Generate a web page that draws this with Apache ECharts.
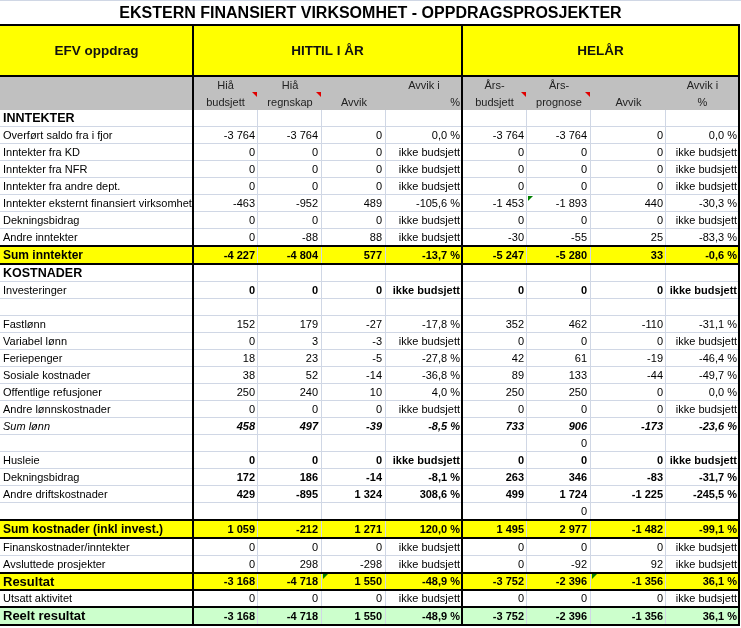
<!DOCTYPE html>
<html>
<head>
<meta charset="utf-8">
<script src="https://cdn.jsdelivr.net/npm/echarts@6/dist/echarts.min.js"></script>
<style>
html,body{margin:0;padding:0;background:#fff;}
#chart{width:741px;height:628px;}
</style>
</head>
<body>
<div id="chart"></div>
<script>
// ---------- DATA ----------
const title = "EKSTERN FINANSIERT VIRKSOMHET - OPPDRAGSPROSJEKTER";
const headerLabel = "EFV oppdrag";
const groupLabels = ["HITTIL I ÅR", "HELÅR"];
const subHeaderLine1 = ["", "Hiå", "Hiå", "", "Avvik i", "Års-", "Års-", "", "Avvik i"];
const subHeaderLine2 = ["", "budsjett", "regnskap", "Avvik", "%", "budsjett", "prognose", "Avvik", "%"];
const IB = "ikke budsjett";

const rowLabels = ["INNTEKTER", "Overført saldo fra i fjor", "Inntekter fra KD", "Inntekter fra NFR",
  "Inntekter fra andre dept.", "Inntekter eksternt finansiert virksomhet", "Dekningsbidrag", "Andre inntekter",
  "Sum inntekter", "KOSTNADER", "Investeringer", "", "Fastlønn", "Variabel lønn", "Feriepenger",
  "Sosiale kostnader", "Offentlige refusjoner", "Andre lønnskostnader", "Sum lønn", "", "Husleie",
  "Dekningsbidrag", "Andre driftskostnader", "", "Sum kostnader (inkl invest.)", "Finanskostnader/inntekter",
  "Avsluttede prosjekter", "Resultat", "Utsatt aktivitet", "Reelt resultat"];

const hiaBudsjett = [null, -3764, 0, 0, 0, -463, 0, 0, -4227, null, 0, null, 152, 0, 18, 38, 250, 0, 458, null, 0, 172, 429, null, 1059, 0, 0, -3168, 0, -3168];
const hiaRegnskap = [null, -3764, 0, 0, 0, -952, 0, -88, -4804, null, 0, null, 179, 3, 23, 52, 240, 0, 497, null, 0, 186, -895, null, -212, 0, 298, -4718, 0, -4718];
const hiaAvvik = [null, 0, 0, 0, 0, 489, 0, 88, 577, null, 0, null, -27, -3, -5, -14, 10, 0, -39, null, 0, -14, 1324, null, 1271, 0, -298, 1550, 0, 1550];
const hiaAvvikPct = [null, 0.0, IB, IB, IB, -105.6, IB, IB, -13.7, null, IB, null, -17.8, IB, -27.8, -36.8, 4.0, IB, -8.5, null, IB, -8.1, 308.6, null, 120.0, IB, IB, -48.9, IB, -48.9];
const arsBudsjett = [null, -3764, 0, 0, 0, -1453, 0, -30, -5247, null, 0, null, 352, 0, 42, 89, 250, 0, 733, null, 0, 263, 499, null, 1495, 0, 0, -3752, 0, -3752];
const arsPrognose = [null, -3764, 0, 0, 0, -1893, 0, -55, -5280, null, 0, null, 462, 0, 61, 133, 250, 0, 906, 0, 0, 346, 1724, 0, 2977, 0, -92, -2396, 0, -2396];
const arsAvvik = [null, 0, 0, 0, 0, 440, 0, 25, 33, null, 0, null, -110, 0, -19, -44, 0, 0, -173, null, 0, -83, -1225, null, -1482, 0, 92, -1356, 0, -1356];
const arsAvvikPct = [null, 0.0, IB, IB, IB, -30.3, IB, -83.3, -0.6, null, IB, null, -31.1, IB, -46.4, -49.7, 0.0, IB, -23.6, null, IB, -31.7, -245.5, null, -99.1, IB, IB, 36.1, IB, 36.1];

// ---------- LAYOUT / STYLE ----------
const W = 741, H = 628;
const colEdges = [0, 193, 258, 322, 386, 462, 527, 591, 666, 739];
const headerEdges = [0, 25, 76, 110];
const rowHeights = [17,17,17,17,17,17,17,17,18,18,17,17,17,17,17,17,17,17,17,17,17,17,17,17,18,18,17,17,17,18];
const rowEdges = [headerEdges[3]];
rowHeights.forEach(h => rowEdges.push(rowEdges[rowEdges.length - 1] + h));
// row kinds: n normal, s section, sum, b bold values, i italic sum, res result, reelt
const rowKinds = ["s","n","n","n","n","n","n","n","sum","s","b","n","n","n","n","n","n","n","i","n","b","b","b","n","sum","n","n","res","n","reelt"];
const valuePad = [3, 3, 4, 4, 2, 3, 4, 3, 2];
const pctCols = [4, 8];
const FF = '"Liberation Sans", Arial, sans-serif';
const YELLOW = "#FFFF00", GREEN = "#CCFFCC", GRAY = "#C0C0C0", GRID = "#D0D7E5";
const thickRowsTopBottom = [8, 24, 27, 29];
const redMarks = [1, 2, 5, 6];          // comment markers in sub header
const greenMarks = [[6, 5], [3, 27], [7, 27]]; // [col,row] cell markers

const valueCols = [hiaBudsjett, hiaRegnskap, hiaAvvik, hiaAvvikPct, arsBudsjett, arsPrognose, arsAvvik, arsAvvikPct];

function fmtNum(v) {
  const s = String(Math.abs(v)).replace(/\B(?=(\d{3})+(?!\d))/g, " ");
  return (v < 0 ? "-" : "") + s;
}
function fmtPct(v) {
  if (typeof v === "string") return v;
  return v.toFixed(1).replace(".", ",") + " %";
}

function rowBg(k) {
  if (k === "sum" || k === "res") return YELLOW;
  if (k === "reelt") return GREEN;
  return "#FFFFFF";
}
function labelFont(k) {
  if (k === "s") return "bold 12.5px " + FF;
  if (k === "sum") return "bold 12px " + FF;
  if (k === "res" || k === "reelt") return "bold 13px " + FF;
  if (k === "i") return "italic 11px " + FF;
  return "11px " + FF;
}
function valueFont(k) {
  if (k === "sum" || k === "b" || k === "res" || k === "reelt") return "bold 11px " + FF;
  if (k === "i") return "italic bold 11px " + FF;
  return "11px " + FF;
}

// ---------- SERIES ----------
const bodyData = [];
for (let r = 0; r < rowLabels.length; r++) for (let c = 0; c < 9; c++) bodyData.push([c, r]);

function renderBody(params, api) {
  const c = api.value(0), r = api.value(1);
  const p0 = api.coord([colEdges[c], rowEdges[r]]);
  const p1 = api.coord([colEdges[c + 1], rowEdges[r + 1]]);
  const k = rowKinds[r];
  const children = [{
    type: "rect", shape: { x: p0[0], y: p0[1], width: p1[0] - p0[0], height: p1[1] - p0[1] },
    style: { fill: rowBg(k) }
  }, {
    type: "line", shape: { x1: p0[0], y1: p1[1] - 0.5, x2: p1[0], y2: p1[1] - 0.5 },
    style: { stroke: GRID, lineWidth: 1 }
  }];
  if (c > 0) children.push({
    type: "line", shape: { x1: p1[0] - 0.5, y1: p0[1], x2: p1[0] - 0.5, y2: p1[1] },
    style: { stroke: GRID, lineWidth: 1 }
  });
  const cy = (p0[1] + p1[1]) / 2 + 0.5;
  if (c === 0) {
    children.push({ type: "text", style: { x: p0[0] + 3, y: cy, text: rowLabels[r], font: labelFont(k), fill: "#000", textAlign: "left", textVerticalAlign: "middle" } });
  } else {
    const v = valueCols[c - 1][r];
    if (v !== null && v !== undefined) {
      const txt = pctCols.indexOf(c) >= 0 ? fmtPct(v) : fmtNum(v);
      children.push({ type: "text", style: { x: p1[0] - valuePad[c], y: cy, text: txt, font: valueFont(k), fill: "#000", textAlign: "right", textVerticalAlign: "middle" } });
    }
  }
  return { type: "group", children: children };
}

// header blocks: [c0, c1, rowStart, rowEnd, kind]
const headerBlocks = [[0, 9, 0, 1, "title"], [0, 1, 1, 2, "efv"], [1, 5, 1, 2, "g0"], [5, 9, 1, 2, "g1"], [0, 9, 2, 3, "sub"]];
function renderHeader(params, api) {
  const b = headerBlocks[params.dataIndex];
  const p0 = api.coord([colEdges[b[0]], headerEdges[b[2]]]);
  const p1 = api.coord([colEdges[b[1]], headerEdges[b[3]]]);
  const children = [];
  const cx = (p0[0] + p1[0]) / 2, cy = (p0[1] + p1[1]) / 2;
  if (b[4] === "title") {
    children.push({ type: "rect", shape: { x: p0[0], y: p0[1], width: W, height: p1[1] - p0[1] }, style: { fill: "#fff" } });
    children.push({ type: "line", shape: { x1: 0, y1: p0[1] + 0.5, x2: W, y2: p0[1] + 0.5 }, style: { stroke: GRID, lineWidth: 1 } });
    children.push({ type: "text", style: { x: W / 2, y: cy + 1, text: title, font: "bold 16px " + FF, fill: "#000", textAlign: "center", textVerticalAlign: "middle" } });
  } else if (b[4] === "sub") {
    children.push({ type: "rect", shape: { x: p0[0], y: p0[1], width: p1[0] - p0[0], height: p1[1] - p0[1] }, style: { fill: GRAY } });
    const yl1 = p0[1] + 10, yl2 = p0[1] + 27;
    for (let c = 1; c < 9; c++) {
      const a = api.coord([colEdges[c], 0])[0], z = api.coord([colEdges[c + 1], 0])[0];
      const mid = (a + z) / 2;
      if (subHeaderLine1[c]) children.push({ type: "text", style: { x: mid, y: yl1, text: subHeaderLine1[c], font: "11px " + FF, fill: "#222", textAlign: "center", textVerticalAlign: "middle" } });
      if (subHeaderLine2[c]) {
        const right = (c === 4);
        children.push({ type: "text", style: { x: right ? z - 2 : mid, y: yl2, text: subHeaderLine2[c], font: "11px " + FF, fill: "#222", textAlign: right ? "right" : "center", textVerticalAlign: "middle" } });
      }
    }
  } else {
    const txt = b[4] === "efv" ? headerLabel : groupLabels[b[4] === "g0" ? 0 : 1];
    children.push({ type: "rect", shape: { x: p0[0], y: p0[1], width: p1[0] - p0[0], height: p1[1] - p0[1] }, style: { fill: YELLOW } });
    children.push({ type: "text", style: { x: cx, y: cy + 1, text: txt, font: "bold 13.5px " + FF, fill: "#111", textAlign: "center", textVerticalAlign: "middle" } });
  }
  return { type: "group", children: children };
}

// thick borders
const hLines = [headerEdges[1], headerEdges[2]];
thickRowsTopBottom.forEach(r => { hLines.push(rowEdges[r]); hLines.push(rowEdges[r + 1]); });
const vLines = [colEdges[1], colEdges[5], colEdges[9]];
const borderData = hLines.map(y => [0, y]).concat(vLines.map(x => [1, x]));
function renderBorder(params, api) {
  const t = api.value(0), v = api.value(1);
  let shape;
  if (t === 0) {
    const a = api.coord([0, v]), b = api.coord([colEdges[9], v]);
    shape = { x1: a[0], y1: a[1], x2: b[0] + 1, y2: b[1] };
  } else {
    const a = api.coord([v, headerEdges[1]]), b = api.coord([v, rowEdges[rowEdges.length - 1]]);
    shape = { x1: a[0], y1: a[1] - 1, x2: b[0], y2: b[1] + 1 };
  }
  return { type: "line", shape: shape, style: { stroke: "#000", lineWidth: 2 } };
}

// markers
const markData = redMarks.map(c => [0, c, 0]).concat(greenMarks.map(m => [1, m[0], m[1]]));
function renderMark(params, api) {
  const t = api.value(0), c = api.value(1), r = api.value(2);
  if (t === 0) {
    const p = api.coord([colEdges[c + 1], headerEdges[2] + 17]);
    const x = p[0] - 1, y = p[1] - 1;
    return { type: "polygon", shape: { points: [[x - 5, y], [x, y], [x, y + 5]] }, style: { fill: "#E00000" } };
  }
  const p = api.coord([colEdges[c], rowEdges[r]]);
  const x = p[0] + 1, y = p[1] + 1;
  return { type: "polygon", shape: { points: [[x, y], [x + 5, y], [x, y + 5]] }, style: { fill: "#008000" } };
}

const chart = echarts.init(document.getElementById("chart"), null, { renderer: "canvas" });
chart.setOption({
  animation: false,
  backgroundColor: "#fff",
  grid: { left: 0, right: 0, top: 0, bottom: 0 },
  xAxis: { type: "value", min: 0, max: W, show: false },
  yAxis: { type: "value", min: 0, max: H, inverse: true, show: false },
  series: [
    { type: "custom", coordinateSystem: "cartesian2d", clip: false, z: 1, silent: true, renderItem: renderHeader, data: headerBlocks.map((b, i) => [i, i]) },
    { type: "custom", coordinateSystem: "cartesian2d", clip: false, z: 2, silent: true, renderItem: renderBody, data: bodyData },
    { type: "custom", coordinateSystem: "cartesian2d", clip: false, z: 3, silent: true, renderItem: renderBorder, data: borderData },
    { type: "custom", coordinateSystem: "cartesian2d", clip: false, z: 4, silent: true, renderItem: renderMark, data: markData }
  ]
});
</script>
</body>
</html>
